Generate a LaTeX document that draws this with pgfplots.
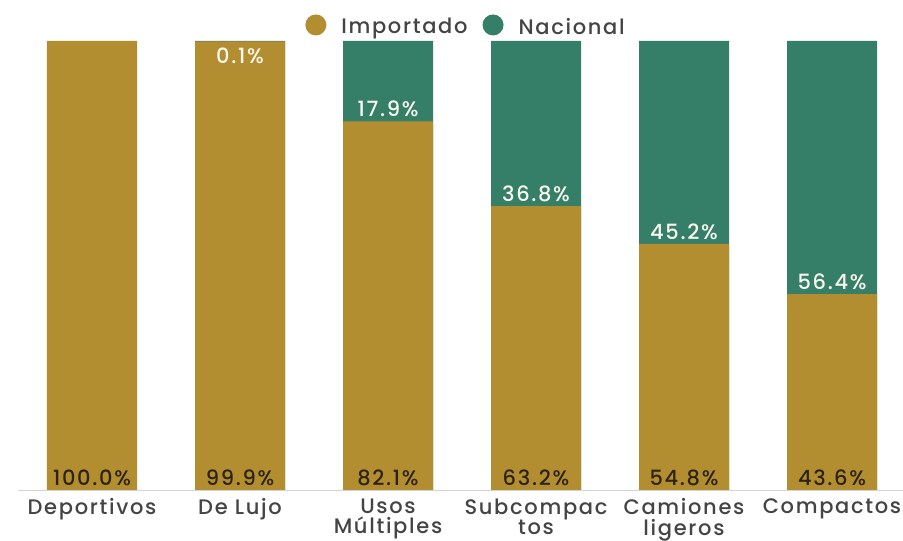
\documentclass[border=0pt]{standalone}
\usepackage{pgfplots}
\pgfplotsset{compat=1.18}
\usepackage{fontspec}
\setmainfont{Poppins}[UprightFont=* Medium, LetterSpace=8]
\definecolor{gold}{RGB}{179,142,48}
\definecolor{verde}{RGB}{53,126,104}
\definecolor{txt}{RGB}{68,68,68}
\definecolor{lbl}{RGB}{45,35,20}
\definecolor{wlbl}{RGB}{250,247,238}
\begin{document}
\begin{tikzpicture}[x=1pt,y=1pt]
\useasboundingbox (0,0) rectangle (903,541);
\begin{axis}[
  at={(18pt,51pt)}, anchor=south west,
  scale only axis, width=888pt, height=449pt,
  xmin=-0.5, xmax=5.5, ymin=0, ymax=100,
  axis x line*=bottom, axis y line=none,
  x axis line style={draw=gray!35, line width=0.8pt, -},
  xtick={0,...,5},
  xticklabels={Deportivos, De Lujo, {Usos\\Múltiples}, {Subcompac\\tos}, {Camiones\\ligeros}, Compactos},
  major tick length=0pt,
  xticklabel style={align=center, font=\fontsize{21}{20.5}\selectfont, text=txt, inner sep=2pt, yshift=-6.5pt},
  ytick=\empty,
  legend style={at={(0.5,1)}, anchor=south, yshift=5pt, xshift=3pt, draw=none, fill=none, inner sep=0pt,
    nodes={inner sep=0pt},
    font=\fontsize{21}{21}\selectfont, text=txt, legend columns=2,
    /tikz/column 2/.style={column sep=15pt}},
  legend cell align=left,
]
\addlegendimage{legend image code/.code={\fill[gold,draw=none] (10.5pt,2pt) circle (10.5pt); \path[draw=none,fill=none] (0,0) -- (36pt,0);}}
\addlegendentry{Importado}
\addlegendimage{legend image code/.code={\fill[verde,draw=none] (10.5pt,2pt) circle (10.5pt); \path[draw=none,fill=none] (0,0) -- (36pt,0);}}
\addlegendentry{Nacional}

% total (Importado + Nacional) = 100
\addplot[ybar, bar width=90pt, fill=verde, draw=none, forget plot] coordinates {(1,100) (2,100) (3,100) (4,100) (5,100)};
% Importado
\addplot[ybar, bar width=90pt, fill=gold, draw=none, forget plot] coordinates {(0,100.0) (1,99.9) (2,82.1) (3,63.2) (4,54.8) (5,43.6)};

% Importado labels
\addplot[draw=none, forget plot, point meta=explicit symbolic,
  nodes near coords={\pgfplotspointmeta\%},
  nodes near coords style={anchor=south, font=\fontsize{21}{21}\selectfont, text=lbl, inner sep=4pt}]
  table[meta=l] {
x y l
0 0 100.0
1 0 99.9
2 0 82.1
3 0 63.2
4 0 54.8
5 0 43.6
};
% Nacional labels
\addplot[draw=none, forget plot, point meta=explicit symbolic,
  nodes near coords={\pgfplotspointmeta\%},
  nodes near coords style={anchor=south, font=\fontsize{21}{21}\selectfont, text=wlbl, inner sep=4pt}]
  table[meta=l] {
x y l
2 82.1 17.9
3 63.2 36.8
4 54.8 45.2
5 43.6 56.4
};
\addplot[draw=none, forget plot, point meta=explicit symbolic,
  nodes near coords={\pgfplotspointmeta\%},
  nodes near coords style={anchor=north, font=\fontsize{21}{21}\selectfont, text=wlbl, inner sep=7pt}]
  table[meta=l] {
x y l
1 100 0.1
};
\end{axis}
\end{tikzpicture}
\end{document}
